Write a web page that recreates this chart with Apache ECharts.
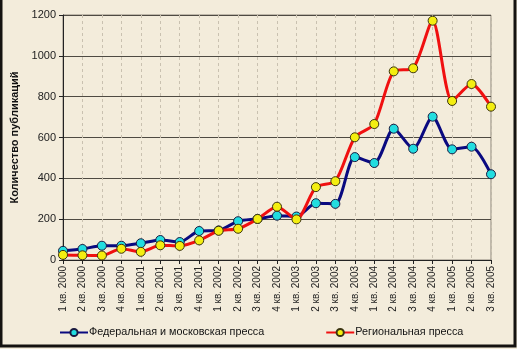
<!DOCTYPE html>
<html>
<head>
<meta charset="utf-8">
<script src="https://cdn.jsdelivr.net/npm/echarts@6/dist/echarts.min.js"></script>
<style>
  html, body { margin: 0; padding: 0; background: #f3ecdb; }
  #chart { width: 517px; height: 349px; }
</style>
</head>
<body>
<div id="chart"></div>
<script>
// Quarters, 2000–2005
const quarters = [
  '1 кв. 2000', '2 кв. 2000', '3 кв. 2000', '4 кв. 2000',
  '1 кв. 2001', '2 кв. 2001', '3 кв. 2001', '4 кв. 2001',
  '1 кв. 2002', '2 кв. 2002', '3 кв. 2002', '4 кв. 2002',
  '1 кв. 2003', '2 кв. 2003', '3 кв. 2003', '4 кв. 2003',
  '1 кв. 2004', '2 кв. 2004', '3 кв. 2004', '4 кв. 2004',
  '1 кв. 2005', '2 кв. 2005', '3 кв. 2005'
];

// Number of publications per quarter
const federalPress = [45, 54, 70, 70, 82, 98, 88, 142, 145, 190, 201, 217,
                      213, 278, 275, 504, 475, 643, 545, 702, 542, 555, 420];
const regionalPress = [25, 23, 22, 55, 40, 72, 69, 96, 143, 153, 201, 261,
                       199, 357, 386, 601, 666, 924, 939, 1172, 779, 862, 751];

const seriesNames = ['Федеральная и московская пресса', 'Региональная пресса'];
const yTitle = 'Количество публикаций';

const chart = echarts.init(document.getElementById('chart'), null, { renderer: 'canvas' });

const font = 'Arial, "Liberation Sans", sans-serif';

chart.setOption({
  backgroundColor: '#f3ecdb',
  animation: false,
  grid: { left: 63, right: 26, top: 15, bottom: 89, show: true, borderColor: '#8a8478', borderWidth: 1, backgroundColor: 'transparent' },
  legend: {
    bottom: 6,
    left: 54,
    itemGap: 61,
    itemWidth: 28,
    itemHeight: 9,
    textStyle: { fontFamily: font, fontSize: 10.8, color: '#111', padding: [0, 0, 0, -4] },
    data: seriesNames
  },
  xAxis: {
    type: 'category',
    data: quarters,
    boundaryGap: false,
    axisLine: { lineStyle: { color: '#222', width: 1 } },
    axisTick: { show: true, length: 4, lineStyle: { color: '#222' } },
    splitLine: { show: true, lineStyle: { color: '#c9c1b0', type: [3, 3], width: 1 } },
    axisLabel: { rotate: 90, margin: 6, fontFamily: font, fontSize: 10, color: '#222', interval: 0 }
  },
  yAxis: {
    type: 'value',
    min: 0,
    max: 1200,
    interval: 200,
    name: yTitle,
    nameLocation: 'middle',
    nameGap: 36,
    nameTextStyle: { fontFamily: font, fontSize: 11, fontWeight: 'bold', color: '#111' },
    axisLine: { show: true, lineStyle: { color: '#222', width: 1 } },
    axisTick: { show: true, length: 4, lineStyle: { color: '#222' } },
    splitLine: { show: true, lineStyle: { color: '#4e4a42', width: 1 } },
    axisLabel: { margin: 7, fontFamily: font, fontSize: 11, color: '#222', formatter: v => String(v) }
  },
  series: [
    {
      name: seriesNames[0],
      type: 'line',
      data: federalPress,
      smooth: 0.25,
      lineStyle: { color: '#0a0a80', width: 3 },
      itemStyle: { color: '#22dde0', borderColor: '#1a1a40', borderWidth: 1 },
      symbol: 'circle',
      symbolSize: 9,
      z: 2
    },
    {
      name: seriesNames[1],
      type: 'line',
      data: regionalPress,
      smooth: 0.25,
      lineStyle: { color: '#f01010', width: 3 },
      itemStyle: { color: '#f4ee10', borderColor: '#3a3410', borderWidth: 1 },
      symbol: 'circle',
      symbolSize: 9,
      z: 3
    }
  ],
  graphic: [
    {
      type: 'rect',
      shape: { x: 1, y: -5, width: 514, height: 351 },
      style: { fill: 'none', stroke: '#141210', lineWidth: 3 },
      z: 100
    }
  ]
});
</script>
</body>
</html>
